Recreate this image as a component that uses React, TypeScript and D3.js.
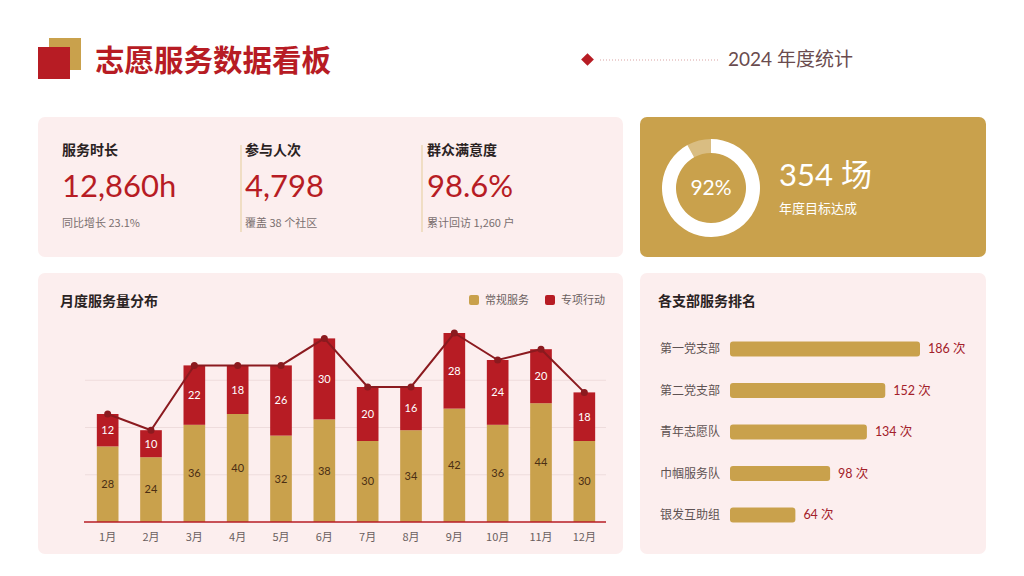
import React from "react";
import * as d3 from "d3";

// Monthly service counts
const months = ["1月", "2月", "3月", "4月", "5月", "6月", "7月", "8月", "9月", "10月", "11月", "12月"];
const regular = [28, 24, 36, 40, 32, 38, 30, 34, 42, 36, 44, 30];
const special = [12, 10, 22, 18, 26, 30, 20, 16, 28, 24, 20, 18];

// Branch ranking
const branches = ["第一党支部", "第二党支部", "青年志愿队", "巾帼服务队", "银发互助组"];
const branchCounts = [186, 152, 134, 98, 64];

// KPI cards
const kpiTitles = ["服务时长", "参与人次", "群众满意度"];
const kpiValues = ["12,860h", "4,798", "98.6%"];
const kpiNotes = ["同比增长 23.1%", "覆盖 38 个社区", "累计回访 1,260 户"];

const goalRate = 0.92;
const goalLabel = "92%";
const eventCount = "354 场";

const RED = "#B71C24";
const GOLD = "#C9A14C";
const PANEL = "#FCEEEE";
const LINE = "#8B1A1F";
const CJK = "'Noto Sans CJK SC', 'Noto Sans', sans-serif";
const NUM = "Lato, 'Noto Sans CJK SC', sans-serif";

export default function App() {
  const W = 1024;
  const H = 576;

  // Monthly chart scales
  const x = d3.scaleBand<string>().domain(months).range([86, 606]).paddingInner(0.5).paddingOuter(0.25);
  const y = d3.scaleLinear().domain([0, 70]).range([522, 333]);
  const totals = regular.map((r, i) => r + special[i]);
  const grid = [17.5, 35, 52.5];
  const line = d3
    .line<number>()
    .x((_, i) => (x(months[i]) as number) + x.bandwidth() / 2)
    .y((d) => y(d));

  // Ranking scales
  const rx = d3.scaleLinear().domain([0, 186]).range([730, 920]);
  const ry = d3.scalePoint<string>().domain(branches).range([349, 515]);
  const barH = 15;

  // Goal donut
  const arc = d3.arc<any>().innerRadius(35).outerRadius(49);
  const doneEnd = goalRate * Math.PI * 2;

  const kpiX = [62, 245, 427];

  return (
    <svg width={W} height={H} style={{ display: "block", position: "absolute", left: 0, top: 0, background: "#fff" }}>
      {/* Header */}
      <rect x={49} y={38} width={32} height={32} fill={GOLD} />
      <rect x={38} y={47} width={32} height={32} fill={RED} />
      <text x={95} y={71} fontFamily={CJK} fontSize={29.5} fontWeight={700} fill={RED}>
        志愿服务数据看板
      </text>
      <rect x={583} y={55} width={9} height={9} fill={RED} transform="rotate(45 587.5 59.5)" />
      <line x1={600} x2={718} y1={60} y2={60} stroke="#D9A3A3" strokeWidth={1} strokeDasharray="1 2" />
      <text x={728} y={66} fontFamily={NUM} fontSize={19} fill="#6A4B4E">
        2024 年度统计
      </text>

      {/* KPI panel */}
      <rect x={38} y={117} width={585} height={140} rx={7} fill={PANEL} />
      {[241, 422].map((dx) => (
        <line key={dx} x1={dx} x2={dx} y1={145} y2={232} stroke="#E8D3A8" strokeWidth={1.2} />
      ))}
      {kpiTitles.map((t, i) => (
        <g key={t}>
          <text x={kpiX[i]} y={155} fontFamily={CJK} fontSize={14} fontWeight={700} fill="#2A2222">
            {t}
          </text>
          <text x={kpiX[i]} y={197} fontFamily={NUM} fontSize={31} fill={RED}>
            {kpiValues[i]}
          </text>
          <text x={kpiX[i]} y={227} fontFamily={CJK} fontSize={11} fill="#7A6E6E">
            {kpiNotes[i]}
          </text>
        </g>
      ))}

      {/* Goal panel */}
      <rect x={640} y={117} width={346} height={140} rx={7} fill={GOLD} />
      <g transform="translate(711,188)">
        <path d={arc({ startAngle: doneEnd, endAngle: Math.PI * 2 }) as string} fill="rgba(255,255,255,0.3)" />
        <path d={arc({ startAngle: 0, endAngle: doneEnd }) as string} fill="#FFFFFF" />
        <text textAnchor="middle" dy="0.35em" fontFamily={NUM} fontSize={21} fill="#FFFFFF">
          {goalLabel}
        </text>
      </g>
      <text x={779} y={186} fontFamily={NUM} fontSize={31} fill="#FFFFFF">
        {eventCount}
      </text>
      <text x={779} y={213} fontFamily={CJK} fontSize={13} fill="#FFFFFF">
        年度目标达成
      </text>

      {/* Monthly chart panel */}
      <rect x={38} y={273} width={585} height={281} rx={7} fill={PANEL} />
      <text x={60} y={306} fontFamily={CJK} fontSize={14} fontWeight={700} fill="#2A2222">
        月度服务量分布
      </text>
      <rect x={469} y={295} width={10} height={10} rx={2} fill={GOLD} />
      <text x={485} y={304} fontFamily={CJK} fontSize={11} fill="#6A5E5E">
        常规服务
      </text>
      <rect x={545} y={295} width={10} height={10} rx={2} fill={RED} />
      <text x={561} y={304} fontFamily={CJK} fontSize={11} fill="#6A5E5E">
        专项行动
      </text>
      {grid.map((g) => (
        <line key={g} x1={85} x2={606} y1={y(g)} y2={y(g)} stroke="#EEDCDC" strokeWidth={1} />
      ))}
      {months.map((m, i) => {
        const bx = x(m) as number;
        const bw = x.bandwidth();
        const cx = bx + bw / 2;
        return (
          <g key={m}>
            <rect x={bx} y={y(regular[i])} width={bw} height={y(0) - y(regular[i])} fill={GOLD} />
            <rect x={bx} y={y(totals[i])} width={bw} height={y(regular[i]) - y(totals[i])} fill={RED} />
            <text x={cx} y={(y(0) + y(regular[i])) / 2} dy="0.35em" textAnchor="middle" fontFamily={NUM} fontSize={11} fill="#4A2E14">
              {regular[i]}
            </text>
            <text x={cx} y={(y(regular[i]) + y(totals[i])) / 2} dy="0.35em" textAnchor="middle" fontFamily={NUM} fontSize={11} fill="#FFFFFF">
              {special[i]}
            </text>
            <text x={cx} y={541} textAnchor="middle" fontFamily={CJK} fontSize={11} fill="#6A5E5E">
              {m}
            </text>
          </g>
        );
      })}
      <line x1={84} x2={606} y1={y(0)} y2={y(0)} stroke={RED} strokeWidth={1.5} />
      <path d={line(totals) as string} fill="none" stroke={LINE} strokeWidth={2} />
      {totals.map((t, i) => (
        <circle key={i} cx={(x(months[i]) as number) + x.bandwidth() / 2} cy={y(t)} r={3.5} fill={LINE} />
      ))}

      {/* Ranking panel */}
      <rect x={640} y={273} width={346} height={281} rx={7} fill={PANEL} />
      <text x={658} y={306} fontFamily={CJK} fontSize={14} fontWeight={700} fill="#2A2222">
        各支部服务排名
      </text>
      {branches.map((b, i) => {
        const cy = ry(b) as number;
        return (
          <g key={b}>
            <text x={720} y={cy} dy="0.35em" textAnchor="end" fontFamily={CJK} fontSize={12} fill="#5E5252">
              {b}
            </text>
            <rect x={rx(0)} y={cy - barH / 2} width={rx(branchCounts[i]) - rx(0)} height={barH} rx={3} fill={GOLD} />
            <text x={rx(branchCounts[i]) + 8} y={cy} dy="0.35em" fontFamily={NUM} fontSize={12.5} fill="#A3202A">
              {branchCounts[i]} 次
            </text>
          </g>
        );
      })}
    </svg>
  );
}
